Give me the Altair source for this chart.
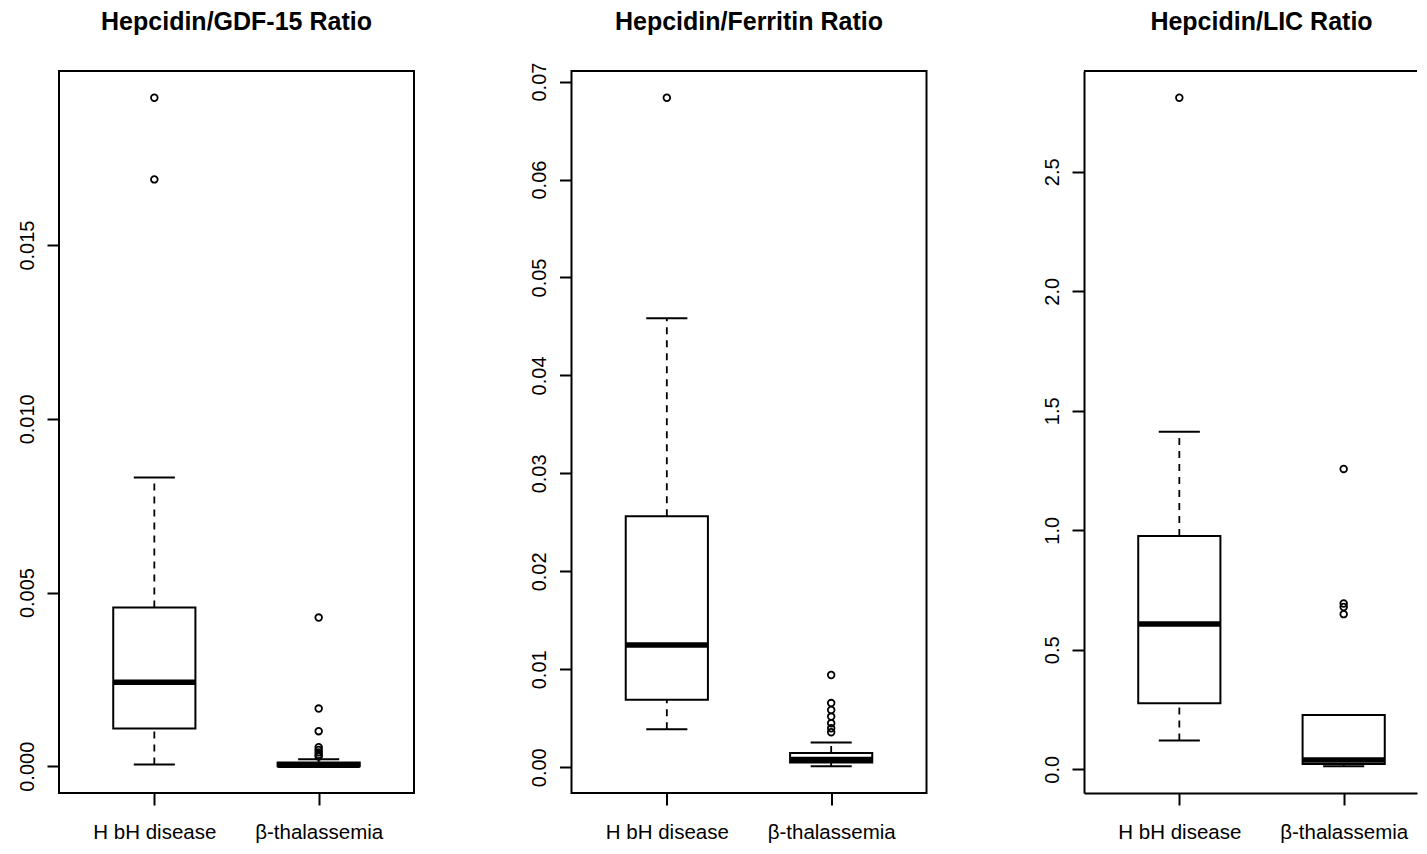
import altair as alt
import pandas as pd

groups = ["H bH disease", "β-thalassemia"]
group_pos = [1, 2]

# Panel 1: Hepcidin/GDF-15 Ratio
gdf_lo = [0.00005, 0.00000]
gdf_q1 = [0.00109, 0.00000]
gdf_med = [0.00242, 0.00003]
gdf_q3 = [0.00457, 0.00011]
gdf_hi = [0.00831, 0.00020]
gdf_out_g1 = [0.01924, 0.01689]
gdf_out_g2 = [0.00428, 0.00166, 0.00101, 0.00055, 0.00047, 0.00040, 0.00033, 0.00028]

# Panel 2: Hepcidin/Ferritin Ratio
fer_lo = [0.00388, 0.00010]
fer_q1 = [0.00689, 0.00049]
fer_med = [0.01249, 0.00079]
fer_q3 = [0.02563, 0.00145]
fer_hi = [0.04583, 0.00253]
fer_out_g1 = [0.06835]
fer_out_g2 = [0.00942, 0.00655, 0.00584, 0.00517, 0.00449, 0.00398, 0.00358]

# Panel 3: Hepcidin/LIC Ratio
lic_lo = [0.1204, 0.0125]
lic_q1 = [0.2766, 0.0220]
lic_med = [0.6076, 0.0390]
lic_q3 = [0.9760, 0.2267]
lic_hi = [1.4120, 0.2267]
lic_out_g1 = [2.810]
lic_out_g2 = [1.2567, 0.6935, 0.6790, 0.6490]

titles = ["Hepcidin/GDF-15 Ratio", "Hepcidin/Ferritin Ratio", "Hepcidin/LIC Ratio"]
tick_vals = [
    [0.0, 0.005, 0.010, 0.015],
    [0.0, 0.01, 0.02, 0.03, 0.04, 0.05, 0.06, 0.07],
    [0.0, 0.5, 1.0, 1.5, 2.0, 2.5],
]
tick_fmt = [".3f", ".2f", ".1f"]

FONT = "Liberation Sans"
W = 355
H = 722
PX_PER_UNIT = W / 2.16
W3 = 333

label_expr = "datum.value == 1 ? '%s' : '%s'" % (groups[0], groups[1])


def panel(lo, q1, med, q3, hi, out1, out2, title, ticks, fmt, width, framed, tdy):
    box = pd.DataFrame({
        "g": group_pos, "lo": lo, "q1": q1, "med": med, "q3": q3, "hi": hi,
    })
    box["gl"] = box["g"] - 0.25
    box["gr"] = box["g"] + 0.25
    box["sl"] = box["g"] - 0.125
    box["sr"] = box["g"] + 0.125
    outs = pd.DataFrame({
        "g": [1] * len(out1) + [2] * len(out2),
        "v": list(out1) + list(out2),
    })
    allv = lo + q1 + med + q3 + hi + list(out1) + list(out2)
    vmin, vmax = min(allv), max(allv)
    ext = (vmax - vmin) * 0.04
    ydom = [vmin - ext, vmax + ext]
    xdom = [0.42, 0.42 + width / PX_PER_UNIT]

    xaxis = alt.Axis(values=group_pos, labelExpr=label_expr, title=None, grid=False,
                     domain=not framed, domainColor="black", domainWidth=2,
                     tickSize=12, tickWidth=2, tickColor="black",
                     labelFont=FONT, labelFontSize=20.5, labelColor="black",
                     labelPadding=17, labelAngle=0)
    yaxis = alt.Axis(values=ticks, format=fmt, title=None, grid=False,
                     domain=not framed, domainColor="black", domainWidth=2,
                     tickSize=12, tickWidth=2, tickColor="black",
                     labelFont=FONT, labelFontSize=20, labelColor="black",
                     labelAngle=-90, labelAlign="center", labelBaseline="bottom",
                     labelPadding=10)
    xs = alt.Scale(domain=xdom, nice=False, zero=False)
    ys = alt.Scale(domain=ydom, nice=False, zero=False)

    def X(f):
        return alt.X(f + ":Q", scale=xs, axis=xaxis)

    def Y(f):
        return alt.Y(f + ":Q", scale=ys, axis=yaxis)

    base = alt.Chart(box)
    wu = base.mark_rule(color="black", strokeWidth=1.8, strokeDash=[7, 6]).encode(
        x=X("g"), y=Y("q3"), y2="hi:Q")
    wl = base.mark_rule(color="black", strokeWidth=1.8, strokeDash=[7, 6]).encode(
        x=X("g"), y=Y("lo"), y2="q1:Q")
    su = base.mark_rule(color="black", strokeWidth=2).encode(
        x=X("sl"), x2="sr:Q", y=Y("hi"))
    sl = base.mark_rule(color="black", strokeWidth=2).encode(
        x=X("sl"), x2="sr:Q", y=Y("lo"))
    rect = base.mark_rect(fill="white", stroke="black", strokeWidth=2).encode(
        x=X("gl"), x2="gr:Q", y=Y("q1"), y2="q3:Q")
    medl = base.mark_rule(color="black", strokeWidth=5.5).encode(
        x=X("gl"), x2="gr:Q", y=Y("med"))
    pts = alt.Chart(outs).mark_point(shape="circle", filled=False, color="black",
                                     size=44, strokeWidth=1.8, opacity=1).encode(
        x=X("g"), y=Y("v"))
    layers = [wu, wl, su, sl, rect, medl, pts]
    if not framed:
        top = alt.Chart(box).mark_rule(color="black", strokeWidth=2).encode(
            x=alt.value(0), x2=alt.value(width), y=alt.value(0))
        layers.append(top)
    dx = (W / 2.0 - width / 2.0)
    tp = alt.TitleParams(text=title, font=FONT, fontSize=25, fontWeight="bold",
                         color="black", frame="group", anchor="middle", offset=35.6,
                         dx=dx, dy=tdy)
    vb = alt.ViewBackground(stroke="black", strokeWidth=2) if framed else \
        alt.ViewBackground(stroke="transparent")
    return alt.layer(*layers).properties(width=width, height=H, title=tp, view=vb)


p1 = panel(gdf_lo, gdf_q1, gdf_med, gdf_q3, gdf_hi, gdf_out_g1, gdf_out_g2,
           titles[0], tick_vals[0], tick_fmt[0], W, True, 0)
p2 = panel(fer_lo, fer_q1, fer_med, fer_q3, fer_hi, fer_out_g1, fer_out_g2,
           titles[1], tick_vals[1], tick_fmt[1], W, True, 8)
p3 = panel(lic_lo, lic_q1, lic_med, lic_q3, lic_hi, lic_out_g1, lic_out_g2,
           titles[2], tick_vals[2], tick_fmt[2], W3, False, 1)

chart = alt.hconcat(p1, p2, p3, spacing=157.5, bounds="flush").properties(
    padding={"left": 8, "top": 0, "right": 0, "bottom": 0},
    background="white",
).configure_view(strokeWidth=2)

chart.save("out.html", embed_options={"renderer": "svg", "actions": False})
